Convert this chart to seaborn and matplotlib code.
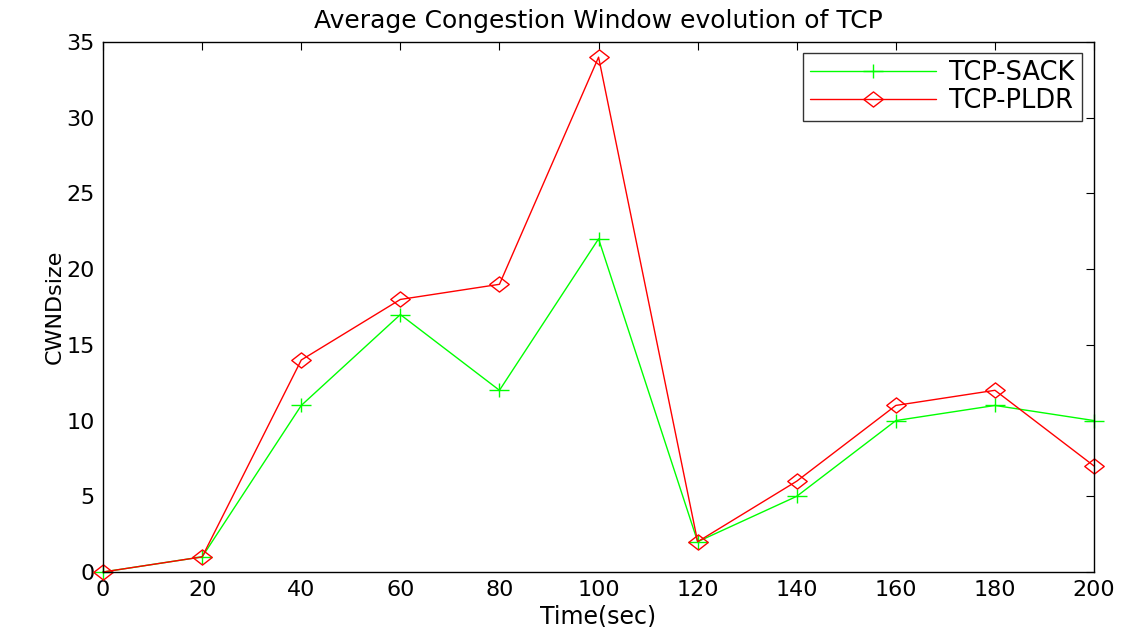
import matplotlib
matplotlib.use("Agg")
import matplotlib.pyplot as plt
from matplotlib.path import Path
import seaborn as sns
import pandas as pd

time_sec = [0, 20, 40, 60, 80, 100, 120, 140, 160, 180, 200]
tcp_sack = [0, 1, 11, 17, 12, 22, 2, 5, 10, 11, 10]
tcp_pldr = [0, 1, 14, 18, 19, 34, 2, 6, 11, 12, 7]
x_ticks = [0, 20, 40, 60, 80, 100, 120, 140, 160, 180, 200]
y_ticks = [0, 5, 10, 15, 20, 25, 30, 35]

sns.set_style("white")
plt.rcParams["font.family"] = ["DejaVu Sans"]
plt.rcParams["text.color"] = "black"
plt.rcParams["axes.labelcolor"] = "black"

# wide, flat marker shapes
plus_marker = Path([(-1, 0), (1, 0), (0, -0.7), (0, 0.7)],
                   [Path.MOVETO, Path.LINETO, Path.MOVETO, Path.LINETO])
diamond_marker = Path([(-1, 0), (0, 0.78), (1, 0), (0, -0.78), (-1, 0)],
                      [Path.MOVETO, Path.LINETO, Path.LINETO, Path.LINETO,
                       Path.CLOSEPOLY])

fig = plt.figure(figsize=(11.3, 6.27), dpi=100)
ax = fig.add_axes([0.0912, 0.0877, 0.8770, 0.8453])

df = pd.DataFrame({"t": time_sec, "sack": tcp_sack, "pldr": tcp_pldr})
sns.lineplot(data=df, x="t", y="sack", ax=ax, color="#00ff00", lw=1.0,
             marker=plus_marker, markersize=14, markerfacecolor="none",
             markeredgecolor="#00ff00", markeredgewidth=1.0,
             clip_on=False, label="TCP-SACK")
sns.lineplot(data=df, x="t", y="pldr", ax=ax, color="#ff0000", lw=1.0,
             marker=diamond_marker, markersize=14, markerfacecolor="none",
             markeredgecolor="#ff0000", markeredgewidth=1.0,
             clip_on=False, label="TCP-PLDR")

ax.set_xlim(0, 200)
ax.set_ylim(0, 35)
ax.set_xticks(x_ticks)
ax.set_yticks(y_ticks)
ax.tick_params(direction="in", length=6, width=0.8, top=True, right=True,
               labelsize=16, pad=6, colors="black")
for s in ax.spines.values():
    s.set_visible(True)
    s.set_color("black")
    s.set_linewidth(1.0)

ax.set_title("Average Congestion Window evolution of TCP", fontsize=18,
             pad=10, color="black")
ax.set_xlabel("Time(sec)", fontsize=17, labelpad=3)
ax.set_ylabel("CWNDsize", fontsize=16, labelpad=1)

leg = ax.legend(loc="upper right", fontsize=18.5, frameon=True,
                fancybox=False, edgecolor="black", handlelength=4.9,
                handletextpad=0.5, borderpad=0.3, labelspacing=0.05,
                borderaxespad=0, bbox_to_anchor=(0.988, 0.98))
leg.get_frame().set_linewidth(1.0)

fig.savefig("out.png", dpi=100, facecolor="white")
